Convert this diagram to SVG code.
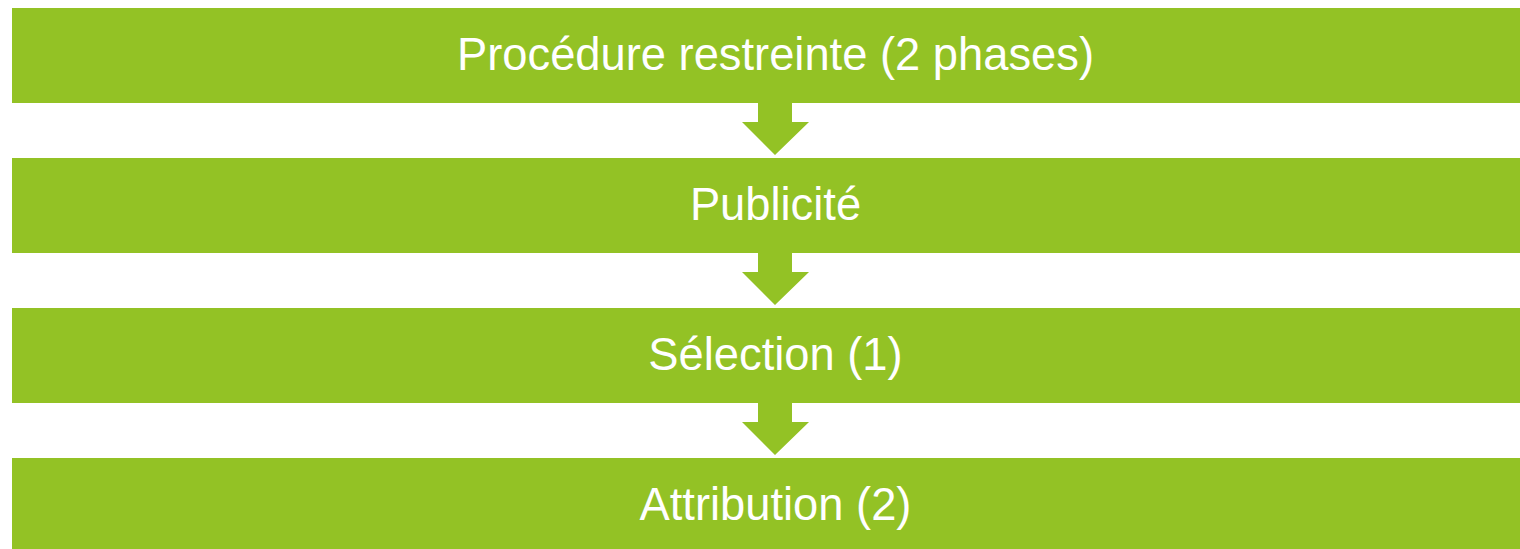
<svg xmlns="http://www.w3.org/2000/svg" width="1520" height="549" viewBox="0 0 1520 549">
<style>
.box{fill:#93C225}
.arr{fill:#93C225}
.lbl{fill:#FFFFFF;font-family:"Liberation Sans",Arial,sans-serif;font-size:45.3px;text-anchor:middle}
</style>
<rect width="1520" height="549" fill="#FFFFFF"/>
<g id="connectors">
<polygon class="arr" points="758,103 792,103 792,122 809,122 775,155 742,122 758,122"/>
<polygon class="arr" points="758,253 792,253 792,272 809,272 775,305 742,272 758,272"/>
<polygon class="arr" points="758,403 792,403 792,422 809,422 775,455 742,422 758,422"/>
</g>
<g id="node1"><rect class="box" x="12" y="8" width="1508" height="95"/><text class="lbl" x="775.5" y="70">Procédure restreinte (2 phases)</text></g>
<g id="node2"><rect class="box" x="12" y="158" width="1508" height="95"/><text class="lbl" x="775.5" y="220">Publicité</text></g>
<g id="node3"><rect class="box" x="12" y="308" width="1508" height="95"/><text class="lbl" x="775.5" y="370">Sélection (1)</text></g>
<g id="node4"><rect class="box" x="12" y="458" width="1508" height="95"/><text class="lbl" x="775.5" y="520">Attribution (2)</text></g>
</svg>
